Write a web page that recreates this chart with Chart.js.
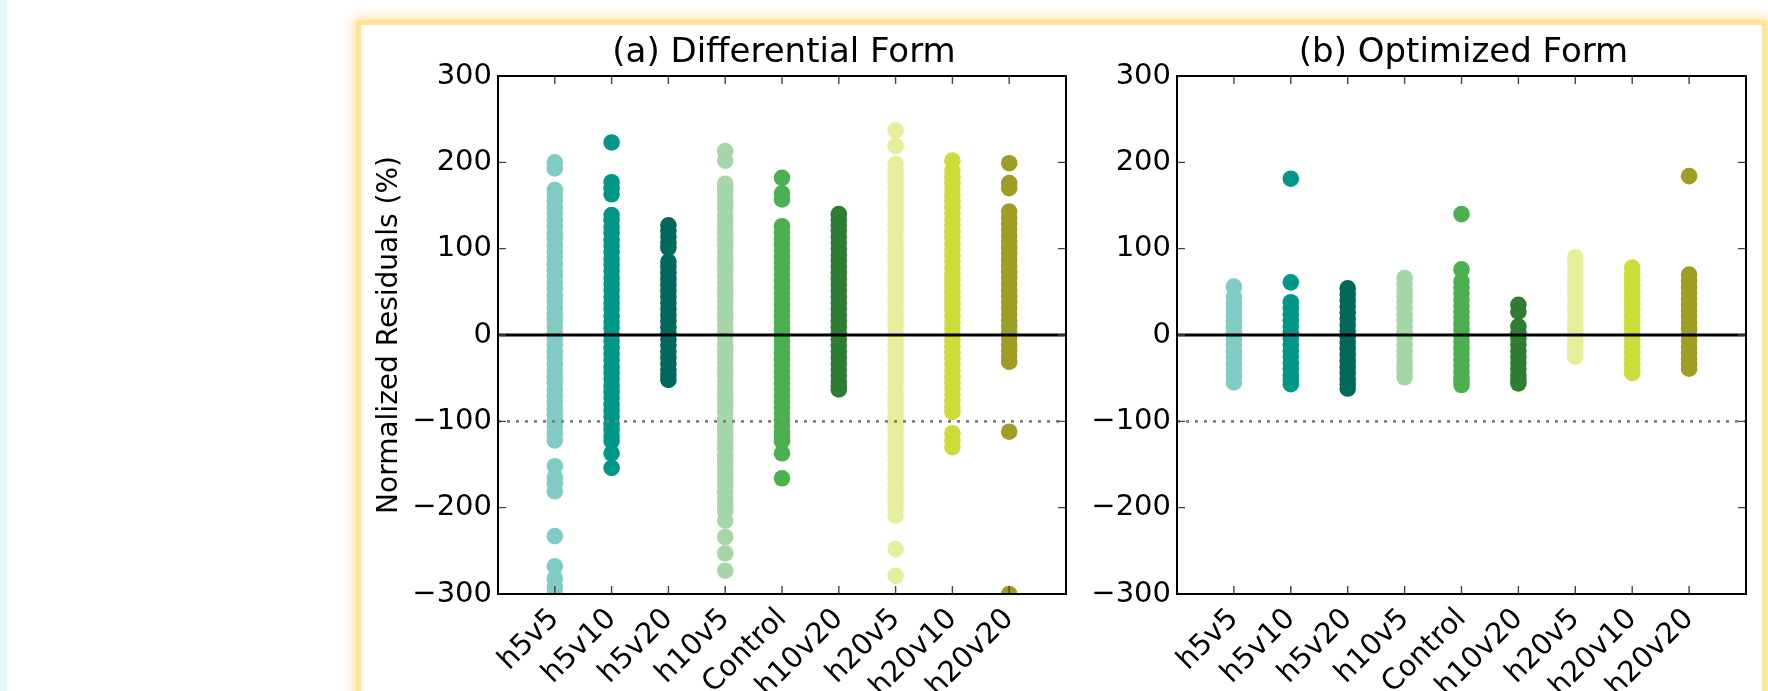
<!DOCTYPE html>
<html>
<head>
<meta charset="utf-8">
<script src="https://cdn.jsdelivr.net/npm/chart.js@4"></script>
<style>
  html, body { margin: 0; padding: 0; background: #fff; overflow: hidden; }
  body { width: 1768px; height: 691px; position: relative; }
  #strip { position: absolute; left: 0; top: 0; width: 7px; height: 691px; background: #e0f7fb; }
  #card { position: absolute; left: 361px; top: 25px; width: 1401px; height: 800px; background: #fff;
          box-shadow: 0 0 0 5px #ffe49a, 0 0 10px 8px #ffe6a2; }
  canvas { position: absolute; top: 0; }
  #chartA { left: 360px; }
  #chartB { left: 1090px; }
</style>
</head>
<body>
<div id="strip"></div>
<div id="card"></div>
<canvas id="chartA" width="720" height="691"></canvas>
<canvas id="chartB" width="670" height="691"></canvas>
<script>
// categorias y colores
const categories = ['h5v5', 'h5v10', 'h5v20', 'h10v5', 'Control', 'h10v20', 'h20v5', 'h20v10', 'h20v20'];
const colors = ['#80cbc4', '#009688', '#00695c', '#a5d6a7', '#4caf50', '#2e7d32', '#e6ee9c', '#cddc39', '#9e9d24'];
const yTicks = [-300, -200, -100, 0, 100, 200, 300];

// (a) Differential Form
const diffH5v5 = [200, 193, 168, 161, 155, 147, 141, 133, 126, 118, 112, 104, 97, 90, 82, 75, 69, 61, 54, 46, 40, 32, 25, 18, 10, 3, -4, -11, -19, -26, -33, -41, -48, -55, -63, -70, -77, -85, -92, -99, -106, -114, -122, -152, -165, -172, -181, -233, -268, -282, -292, -300];
const diffH5v10 = [223, 177, 170, 163, 139, 133, 125, 118, 110, 103, 96, 88, 81, 74, 66, 59, 52, 44, 37, 30, 22, 15, 8, 0, -7, -15, -22, -29, -37, -44, -51, -59, -66, -73, -81, -88, -95, -103, -110, -117, -123, -137, -154];
const diffH5v20 = [127, 121, 114, 107, 101, 85, 79, 72, 65, 58, 51, 44, 37, 30, 23, 16, 9, 2, -5, -12, -19, -26, -33, -40, -46, -52];
const diffH10v5 = [213, 202, 175, 168, 161, 154, 147, 139, 132, 125, 118, 111, 104, 97, 89, 82, 75, 68, 61, 54, 47, 39, 32, 25, 18, 11, 4, -3, -11, -18, -25, -32, -39, -46, -54, -61, -68, -75, -82, -89, -97, -104, -111, -118, -125, -132, -140, -147, -154, -161, -168, -175, -182, -190, -197, -204, -215, -234, -253, -273];
const diffControl = [182, 164, 157, 126, 119, 112, 105, 98, 91, 84, 77, 70, 63, 56, 49, 42, 35, 28, 21, 14, 7, 0, -7, -14, -21, -28, -35, -42, -49, -56, -63, -70, -77, -84, -91, -98, -105, -112, -118, -123, -137, -166];
const diffH10v20 = [140, 133, 127, 121, 114, 107, 100, 93, 86, 79, 72, 65, 58, 51, 44, 37, 30, 23, 16, 9, 2, -5, -12, -19, -26, -33, -40, -47, -54, -60, -63];
const diffH20v5 = [237, 219, 198, 191, 184, 177, 170, 163, 156, 149, 142, 135, 128, 121, 114, 107, 100, 93, 86, 79, 72, 65, 58, 51, 44, 37, 30, 23, 16, 9, 2, -5, -12, -19, -26, -33, -40, -47, -54, -61, -68, -75, -82, -89, -96, -103, -110, -117, -124, -131, -138, -145, -152, -159, -166, -173, -180, -187, -194, -201, -209, -248, -279];
const diffH20v10 = [202, 190, 183, 176, 169, 162, 155, 148, 141, 134, 127, 120, 113, 106, 99, 92, 85, 78, 71, 64, 57, 50, 43, 36, 29, 22, 15, 8, 1, -6, -13, -20, -27, -34, -41, -48, -55, -62, -69, -76, -83, -89, -114, -122, -130];
const diffH20v20 = [199, 176, 170, 143, 136, 129, 122, 115, 108, 101, 94, 87, 80, 73, 66, 59, 52, 45, 38, 31, 24, 17, 10, 3, -4, -11, -18, -25, -31, -112, -300];

// (b) Optimized Form
const optH5v5 = [56, 44, 37, 30, 23, 16, 9, 2, -5, -12, -19, -26, -33, -40, -47, -55];
const optH5v10 = [181, 61, 38, 31, 24, 17, 10, 3, -4, -11, -18, -25, -32, -39, -46, -52, -57];
const optH5v20 = [54, 47, 40, 33, 26, 19, 12, 5, -2, -9, -16, -23, -30, -37, -44, -51, -57, -62];
const optH10v5 = [66, 59, 52, 45, 38, 31, 24, 17, 10, 3, -4, -11, -18, -25, -32, -38, -43, -49];
const optControl = [140, 76, 62, 55, 48, 41, 34, 27, 20, 13, 6, -1, -8, -15, -22, -29, -36, -43, -49, -53, -58];
const optH10v20 = [35, 27, 10, 3, -4, -11, -18, -25, -32, -39, -46, -52, -56];
const optH20v5 = [90, 83, 76, 69, 62, 55, 48, 41, 34, 27, 20, 13, 6, -1, -8, -15, -20, -25];
const optH20v10 = [78, 71, 64, 57, 50, 43, 36, 29, 22, 15, 8, 1, -6, -13, -20, -27, -34, -40, -44];
const optH20v20 = [184, 70, 63, 56, 49, 42, 35, 28, 21, 14, 7, 0, -7, -14, -21, -28, -34, -39];

const diffSeries = [diffH5v5, diffH5v10, diffH5v20, diffH10v5, diffControl, diffH10v20, diffH20v5, diffH20v10, diffH20v20];
const optSeries = [optH5v5, optH5v10, optH5v20, optH10v5, optControl, optH10v20, optH20v5, optH20v10, optH20v20];

Chart.defaults.font.family = 'DejaVu Sans';
Chart.defaults.color = '#000';

// marco, ticks hacia adentro (estilo matplotlib) y titulo centrado en el area
const framePlugin = {
  id: 'frame',
  afterDatasetsDraw(chart, args, opts) {
    const { ctx, chartArea: a, scales: { x, y } } = chart;
    ctx.save();
    ctx.strokeStyle = '#444';
    ctx.lineWidth = 1.4;
    ctx.beginPath();
    categories.forEach((c, i) => {
      const px = x.getPixelForValue(i + 1);
      ctx.moveTo(px, a.top); ctx.lineTo(px, a.top + 8);
      ctx.moveTo(px, a.bottom); ctx.lineTo(px, a.bottom - 8);
    });
    yTicks.forEach(v => {
      const py = y.getPixelForValue(v);
      ctx.moveTo(a.left, py); ctx.lineTo(a.left + 8, py);
      ctx.moveTo(a.right, py); ctx.lineTo(a.right - 8, py);
    });
    ctx.stroke();
    ctx.strokeStyle = '#000';
    ctx.lineWidth = 2;
    ctx.strokeRect(a.left, a.top, a.right - a.left, a.bottom - a.top);

    ctx.fillStyle = '#000';
    ctx.font = '34px "DejaVu Sans"';
    ctx.textAlign = 'center';
    ctx.textBaseline = 'middle';
    ctx.fillText(opts.text, (a.left + a.right) / 2 + 2, a.top - 23);
    ctx.restore();
  }
};

function makeChart(id, title, series, axisWidth, yTitle) {
  const datasets = [
    {
      data: [{ x: 0, y: 0 }, { x: 10, y: 0 }],
      showLine: true, borderColor: '#000', borderWidth: 3, pointRadius: 0, order: 0
    },
    {
      data: [{ x: 0, y: -100 }, { x: 10, y: -100 }],
      showLine: true, borderColor: '#808080', borderWidth: 2.6, borderDash: [3, 6], pointRadius: 0, order: 0
    }
  ];
  series.forEach((vals, i) => {
    datasets.push({
      data: vals.map(v => ({ x: i + 1, y: v })),
      backgroundColor: colors[i],
      borderWidth: 0,
      pointRadius: 8.3,
      clip: 0,
      order: 1
    });
  });

  return new Chart(document.getElementById(id), {
    type: 'scatter',
    data: { datasets },
    options: {
      responsive: false,
      animation: false,
      events: [],
      layout: { padding: { left: 0, right: 14, top: 76, bottom: 0 } },
      plugins: {
        legend: { display: false },
        tooltip: { enabled: false },
        title: { display: false },
        frame: { text: title }
      },
      scales: {
        x: {
          type: 'linear',
          min: 0,
          max: 10,
          grid: { display: false },
          border: { display: false },
          afterFit: s => { s.height = 97; s.paddingLeft = 0; s.paddingRight = 0; },
          ticks: {
            stepSize: 1,
            autoSkip: false,
            minRotation: 45,
            maxRotation: 45,
            padding: 0,
            font: { size: 29 },
            callback: v => categories[v - 1] || ''
          }
        },
        y: {
          min: -300,
          max: 300,
          grid: { display: false, drawTicks: false },
          border: { display: false },
          afterFit: s => { s.width = axisWidth; },
          ticks: {
            stepSize: 100,
            padding: 6,
            font: { size: 29 },
            callback: v => v < 0 ? '\u2212' + Math.abs(v) : String(v)
          },
          title: {
            display: yTitle,
            text: 'Normalized Residuals (%)',
            font: { size: 28 },
            padding: { top: 13, bottom: 0 }
          }
        }
      }
    },
    plugins: [framePlugin]
  });
}

makeChart('chartA', '(a) Differential Form', diffSeries, 138, true);
makeChart('chartB', '(b) Optimized Form', optSeries, 87, false);
</script>
</body>
</html>
